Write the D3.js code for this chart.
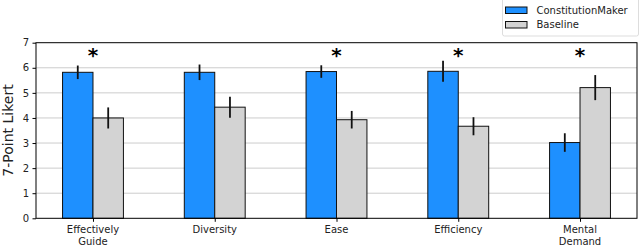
<!DOCTYPE html>
<html><head><meta charset="utf-8">
<script src="https://cdn.jsdelivr.net/npm/d3@7"></script>
<style>body{margin:0;background:#fff}svg{display:block;font-family:"DejaVu Sans",sans-serif}</style>
</head><body>
<svg id="c" width="640" height="247"></svg>
<script>
const categories = [["Effectively","Guide"],["Diversity"],["Ease"],["Efficiency"],["Mental","Demand"]];
const seriesNames = ["ConstitutionMaker","Baseline"];
const makerValues = [5.82, 5.82, 5.85, 5.86, 3.02];
const makerErrors = [0.27, 0.31, 0.25, 0.42, 0.37];
const baselineValues = [4.0, 4.43, 3.93, 3.67, 5.21];
const baselineErrors = [0.42, 0.42, 0.35, 0.36, 0.50];
const significant = [true, false, true, true, true];
const yTicks = [0,1,2,3,4,5,6,7];
const colors = ["#1e90ff", "#d3d3d3"];

const svg = d3.select("#c");
const L = 36, R = 637, T = 42.7, B = 218.3;
const x = d3.scaleLinear().domain([-0.468, 4.468]).range([L, R]);
const y = d3.scaleLinear().domain([0, 7]).range([B, T]);
const bw = 0.25;

// grid
svg.append("g").selectAll("line").data(yTicks.slice(1, -1)).join("line")
  .attr("x1", L).attr("x2", R).attr("y1", d => y(d)).attr("y2", d => y(d))
  .attr("stroke", "#cccccc").attr("stroke-width", 1);

const series = [
  {vals: makerValues, errs: makerErrors, off: -bw/2, color: colors[0]},
  {vals: baselineValues, errs: baselineErrors, off: bw/2, color: colors[1]}
];
series.forEach(s => {
  const g = svg.append("g");
  g.selectAll("rect").data(s.vals).join("rect")
    .attr("x", (d, i) => x(i + s.off - bw/2))
    .attr("width", x(bw) - x(0))
    .attr("y", d => y(d))
    .attr("height", d => y(0) - y(d))
    .attr("fill", s.color).attr("stroke", "#111").attr("stroke-width", 1);
});
series.forEach(s => {
  svg.append("g").selectAll("line").data(s.vals).join("line")
    .attr("x1", (d, i) => x(i + s.off)).attr("x2", (d, i) => x(i + s.off))
    .attr("y1", (d, i) => y(d + s.errs[i])).attr("y2", (d, i) => y(d - s.errs[i]))
    .attr("stroke", "#111").attr("stroke-width", 1.8);
});

// asterisks
svg.append("g").selectAll("text").data(significant.map((d, i) => ({d, i})).filter(o => o.d)).join("text")
  .attr("x", o => x(o.i)).attr("y", 62)
  .attr("text-anchor", "middle").attr("font-size", 20).attr("font-weight", "bold")
  .attr("fill", "#000").text("*");

// frame
svg.append("rect").attr("x", L).attr("y", T).attr("width", R - L).attr("height", B - T)
  .attr("fill", "none").attr("stroke", "#000").attr("stroke-width", 1);

// y axis
const ya = svg.append("g").attr("transform", `translate(${L},0)`)
  .call(d3.axisLeft(y).tickValues(yTicks).tickSize(3.5).tickPadding(3.5).tickFormat(d3.format("d")));
ya.select(".domain").remove();
ya.selectAll("text").attr("font-size", 10).attr("fill", "#222").attr("font-family", "DejaVu Sans");
ya.selectAll("line").attr("stroke", "#000");

// x axis
const xa = svg.append("g").attr("transform", `translate(0,${B})`)
  .call(d3.axisBottom(x).tickValues(d3.range(categories.length)).tickSize(3.5).tickFormat(""));
xa.select(".domain").remove();
xa.selectAll("line").attr("stroke", "#000");
const xl = svg.append("g").selectAll("text").data(categories).join("text")
  .attr("text-anchor", "middle").attr("font-size", 10).attr("fill", "#222");
xl.each(function(lines, i) {
  d3.select(this).selectAll("tspan").data(lines).join("tspan")
    .attr("x", x(i)).attr("y", (d, j) => B + 15 + j * 11.5).text(d => d);
});

// y label
svg.append("text").attr("transform", `translate(13,${(T + B) / 2}) rotate(-90)`)
  .attr("text-anchor", "middle").attr("font-size", 14).attr("fill", "#222").text("7-Point Likert");

// legend
const lg = svg.append("g");
lg.append("rect").attr("x", 502.5).attr("y", -3).attr("width", 136).attr("height", 39).attr("rx", 2)
  .attr("fill", "#fff").attr("stroke", "#dddddd").attr("stroke-width", 1);
seriesNames.forEach((n, i) => {
  lg.append("rect").attr("x", 505.5).attr("y", 7 + i * 14.5).attr("width", 21.5).attr("height", 6.5)
    .attr("fill", colors[i]).attr("stroke", "#111").attr("stroke-width", 1);
  lg.append("text").attr("x", 536.5).attr("y", 13.5 + i * 14.5).attr("font-size", 10)
    .attr("fill", "#222").text(n);
});
</script>
</body></html>
